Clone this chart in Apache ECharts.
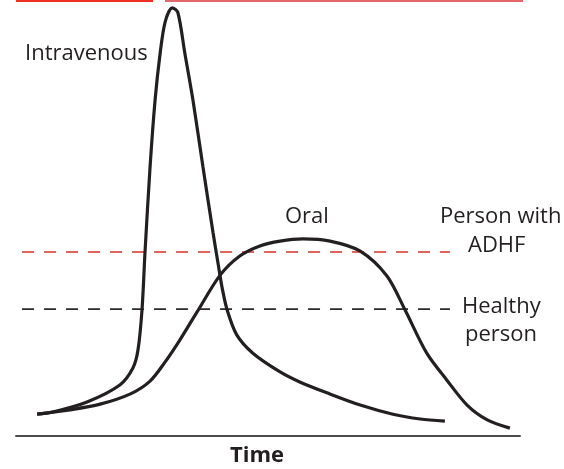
<!DOCTYPE html>
<html>
<head>
<meta charset="utf-8">
<script src="https://cdn.jsdelivr.net/npm/echarts@6/dist/echarts.min.js"></script>
<style>
  html, body { margin: 0; padding: 0; background: #fff; }
  #chart { width: 564px; height: 469px; }
</style>
</head>
<body>
<div id="chart"></div>
<script>
// time axis in arbitrary units (0-100), concentration in arbitrary units (0-100)
const ivTime = [4.2, 7.3, 14.1, 20.6, 23.2, 24.2, 25.0, 25.6, 26.6, 27.6, 28.6, 29.6, 31.0, 32.1,
  33.5, 35.1, 37.1, 39.1, 40.1, 40.9, 41.9, 43.8, 47.0, 52.4, 56.3, 61.7, 68.3, 74.8, 80.2, 85.1]
const ivConc = [5.0, 5.5, 7.8, 11.7, 15.6, 19.7, 28.9, 42.2, 61.7, 77.1, 87.8, 95.0, 98.2, 97.2,
  87.8, 77.1, 61.7, 46.6, 39.5, 34.0, 28.9, 23.2, 19.0, 14.7, 12.4, 9.9, 7.1, 5.0, 3.9, 3.4]

const oralTime = [4.2, 10.7, 16.7, 22.6, 26.6, 29.6, 32.5, 35.9, 40.5, 44.4, 48.4, 52.4, 56.9, 62.3,
  68.3, 73.6, 77.2, 81.5, 85.5, 89.5, 93.5, 98.0]
const oralConc = [5.0, 6.0, 7.3, 9.6, 12.6, 17.0, 22.0, 28.4, 36.9, 41.3, 43.6, 44.7, 45.2, 44.7,
  42.4, 36.7, 28.9, 19.0, 12.8, 7.1, 3.7, 1.8]

// threshold levels and the span of the dashed lines
const adhfLevel = 42.2
const healthyLevel = 29.1
const thresholdSpan = [1.2, 86.1]

const pair = (xs, ys) => xs.map((x, i) => [x, ys[i]])

const chart = echarts.init(document.getElementById('chart'))
const font = '"Open Sans", sans-serif'
const ink = '#231f20'

chart.setOption({
  animation: false,
  grid: { left: 16, right: 44, top: 0, bottom: 33, outerBoundsMode: 'none', containLabel: false },
  xAxis: {
    type: 'value', min: 0, max: 100,
    name: 'Time', nameLocation: 'middle', nameGap: 9,
    nameTextStyle: { fontFamily: font, fontSize: 22, fontWeight: 'bold', color: ink, padding: [0, 22, 0, 0] },
    axisLine: { show: true, lineStyle: { color: '#4d4d4d', width: 2 } },
    axisTick: { show: false }, axisLabel: { show: false }, splitLine: { show: false }
  },
  yAxis: {
    type: 'value', min: 0, max: 100,
    axisLine: { show: false }, axisTick: { show: false },
    axisLabel: { show: false }, splitLine: { show: false }
  },
  series: [
    {
      name: 'Person with ADHF', type: 'line', symbol: 'none', silent: true,
      data: thresholdSpan.map((x) => [x, adhfLevel]),
      lineStyle: { color: '#d8312a', width: 1.6, type: [12, 10] }
    },
    {
      name: 'Healthy person', type: 'line', symbol: 'none', silent: true,
      data: thresholdSpan.map((x) => [x, healthyLevel]),
      lineStyle: { color: '#2b2b2b', width: 1.6, type: [12, 10] }
    },
    {
      name: 'Intravenous', type: 'line', symbol: 'none', smooth: 0.3,
      data: pair(ivTime, ivConc),
      lineStyle: { color: ink, width: 3.2 }
    },
    {
      name: 'Oral', type: 'line', symbol: 'none', smooth: 0.3,
      data: pair(oralTime, oralConc),
      lineStyle: { color: ink, width: 3.2 }
    }
  ],
  graphic: [
    { type: 'rect', shape: { x: 16, y: 0, width: 137, height: 2 }, style: { fill: '#ee3124' } },
    { type: 'rect', shape: { x: 165, y: 0, width: 358, height: 2 }, style: { fill: '#e2666a' } },
    { type: 'text', left: 25, top: 43, style: { text: 'Intravenous', font: '22px ' + font, fill: ink } },
    { type: 'text', left: 285, top: 206, style: { text: 'Oral', font: '22px ' + font, fill: ink } },
    { type: 'text', left: 440, top: 206, style: { text: 'Person with', font: '22px ' + font, fill: ink } },
    { type: 'text', left: 468, top: 235, style: { text: 'ADHF', font: '22px ' + font, fill: ink } },
    { type: 'text', left: 462, top: 296, style: { text: 'Healthy', font: '22px ' + font, fill: ink } },
    { type: 'text', left: 465, top: 324, style: { text: 'person', font: '22px ' + font, fill: ink } }
  ]
})
</script>
</body>
</html>
